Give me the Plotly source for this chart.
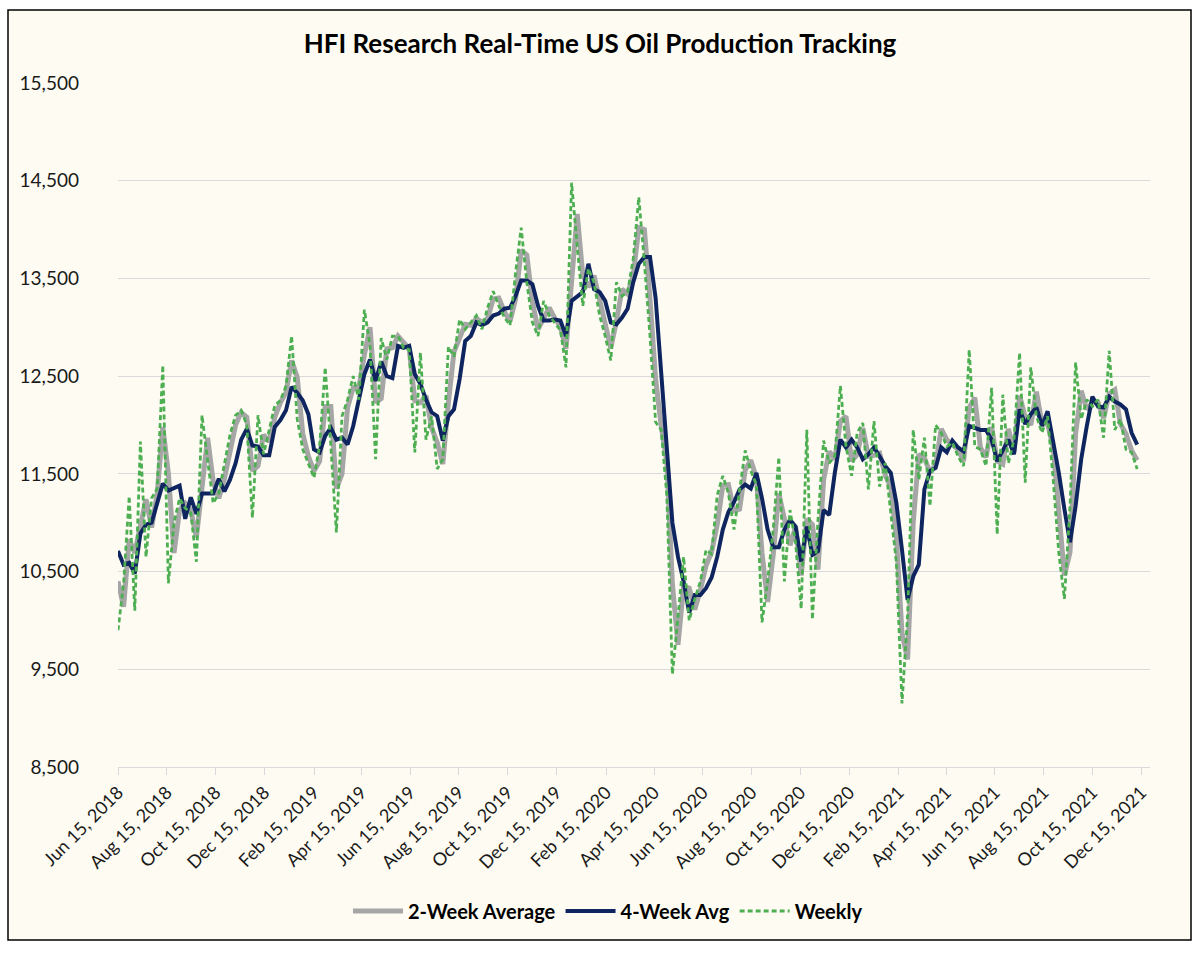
import pandas as pd
import plotly.graph_objects as go

START_DATE = "2018-06-15"

WEEKLY = [
    9900, 10380, 11270, 10100, 11830, 10650, 11250, 11350, 12610, 10380,
    11000, 11250, 11150, 11100, 10600, 12100, 11640, 11200, 11300, 11600,
    11900, 12100, 12150, 12000, 11050, 12100, 11700, 11950, 12200, 12250,
    12400, 12910, 12060, 11750, 11600, 11460, 11790, 12590, 11790, 10900,
    12090, 12260, 12500, 12260, 13180, 12810, 11650, 12890, 12670, 12910,
    12910, 12790, 12770, 11720, 12740, 11850, 12090, 11550, 11650, 12800,
    12700, 13080, 12980, 13050, 13120, 12980, 13200, 13370, 13220, 13100,
    13020, 13560, 14020, 13460, 13050, 12910, 13270, 13120, 13050, 12970,
    12590, 14480, 13830, 13220, 13600, 13460, 13120, 12910, 12660, 13460,
    13320, 13360, 13700, 14330, 13660, 12910, 12030, 11950, 11280, 9450,
    10040, 10650, 10000, 10220, 10400, 10720, 10680, 11280, 11480, 11300,
    10930, 11340, 11740, 11530, 11390, 9980, 10400, 10930, 11670, 10400,
    11130, 10790, 10120, 11950, 10010, 11030, 11840, 11610, 11680, 12400,
    11780, 11480, 11920, 12020, 11340, 12040, 11370, 11610, 11100, 10590,
    9150, 10050, 11950, 11440, 11870, 11170, 12000, 11920, 11780, 11820,
    11680, 11580, 12770, 11780, 11750, 11580, 12380, 10880, 12310, 11610,
    11850, 12740, 11410, 12590, 12090, 11920, 12090, 11440, 10690, 10220,
    11170, 12640, 12060, 12260, 12190, 12260, 11870, 12760, 11950, 12060,
    11750, 11720, 11550,
]

AVG_2W = [
    10400, 10140, 10830, 10690, 10970, 11240, 10950, 11300, 11980, 11500,
    10690, 11130, 11200, 11130, 10850, 11350, 11870, 11420, 11250, 11450,
    11750, 12000, 12130, 12080, 11530, 11580, 11900, 11830, 12080, 12230,
    12330, 12660, 12490, 11910, 11680, 11530, 11630, 12190, 12190, 11350,
    11500, 12180, 12380, 12380, 12720, 13000, 12230, 12270, 12780, 12790,
    12910, 12850, 12780, 12250, 12230, 12300, 11970, 11820, 11600, 12230,
    12750, 12890, 13030, 13020, 13090, 13050, 13090, 13290, 13300, 13160,
    13060, 13290, 13790, 13740, 13260, 12980, 13090, 13200, 13090, 13010,
    12780, 13540, 14160, 13530, 13410, 13530, 13290, 13020, 12790, 13060,
    13390, 13340, 13530, 14020, 14000, 13290, 12470, 11990, 11620, 10370,
    9750, 10350, 10330, 10110, 10310, 10560, 10700, 10980, 11380, 11390,
    11120, 11140, 11540, 11640, 11460, 10690, 10190, 10670, 11300, 11040,
    10770, 10960, 10460, 11040, 10980, 10520, 11440, 11730, 11650, 12040,
    12090, 11630, 11700, 11970, 11680, 11690, 11710, 11490, 11360, 10850,
    9870, 9600, 11000, 11700, 11660, 11520, 11590, 11960, 11850, 11800,
    11750, 11630, 12180, 12280, 11770, 11670, 11980, 11630, 11600, 11960,
    11730, 12300, 12080, 12000, 12340, 12010, 12010, 11770, 11070, 10460,
    10700, 11910, 12350, 12160, 12230, 12230, 12070, 12320, 12360, 12010,
    11910, 11740, 11640,
]

AVG_4W = [
    10710, 10570, 10590, 10480, 10890, 10980, 11000, 11200, 11400, 11330,
    11350, 11380, 11040, 11260, 11090, 11300, 11300, 11300, 11450, 11320,
    11440, 11610, 11850, 11960, 11790, 11780, 11690, 11690, 11980, 12050,
    12150, 12390, 12330, 12250, 12110, 11750, 11720, 11890, 11970, 11850,
    11870, 11800, 11990, 12260, 12520, 12670, 12450, 12650, 12500, 12480,
    12810, 12790, 12810, 12520, 12420, 12260, 12130, 12090, 11840, 12090,
    12160, 12470, 12860, 12910, 13050, 13020, 13050, 13120, 13140, 13190,
    13200, 13320, 13480, 13480, 13440, 13220, 13070, 13070, 13080, 13070,
    12910, 13270, 13310, 13360, 13650, 13390, 13360, 13270, 13050, 13030,
    13100, 13190, 13460, 13650, 13720, 13720, 13300, 12560, 11700, 11000,
    10650, 10400, 10080, 10260, 10260, 10330, 10440, 10650, 10930, 11110,
    11210, 11340, 11390, 11350, 11510, 11250, 10930, 10750, 10750, 10930,
    11030, 10960, 10600, 10960, 10670, 10710, 11130, 11080, 11510, 11850,
    11770, 11850, 11770, 11650, 11700, 11770, 11680, 11580, 11510, 11200,
    10720, 10210, 10450, 10570, 11340, 11530, 11560, 11770, 11720, 11840,
    11770, 11730, 11990, 11970, 11950, 11950, 11850, 11630, 11750, 11850,
    11700, 12160, 12010, 12110, 12180, 11990, 12140, 11850, 11510, 11140,
    10800, 11170, 11650, 11990, 12290, 12190, 12180, 12290, 12240, 12210,
    12160, 11920, 11800,
]

SERIES_NAMES = ["2-Week Average", "4-Week Avg", "Weekly"]
TITLE = "HFI Research Real-Time US Oil Production Tracking"

dates = pd.date_range(START_DATE, periods=len(WEEKLY), freq="7D")

CREAM = "#FEFCF2"
FONT = "Lato, 'Open Sans', sans-serif"

fig = go.Figure()
fig.add_trace(go.Scatter(x=dates, y=AVG_2W, name=SERIES_NAMES[0], mode="lines",
                         line=dict(color="#A6A6A6", width=5)))
fig.add_trace(go.Scatter(x=dates, y=AVG_4W, name=SERIES_NAMES[1], mode="lines",
                         line=dict(color="#0E2560", width=4)))
fig.add_trace(go.Scatter(x=dates, y=WEEKLY, name=SERIES_NAMES[2], mode="lines",
                         line=dict(color="#4DAF51", width=2.8, dash="5px,3px")))

L, R, T, B = 118, 50, 83, 187
W, H = 1200, 954
pw, ph = W - L - R, H - T - B

def px_x(px):
    return (px - L) / pw

def px_y(py):
    return (H - B - py) / ph

fig.add_shape(type="rect", xref="paper", yref="paper",
              x0=px_x(8), x1=px_x(1191), y0=px_y(940), y1=px_y(10),
              line=dict(color="#000000", width=1.5), fillcolor=CREAM, layer="below")

fig.update_layout(
    width=W, height=H,
    margin=dict(l=L, r=R, t=T, b=B, autoexpand=False),
    paper_bgcolor="#FFFFFF",
    plot_bgcolor=CREAM,
    font=dict(family=FONT, color="#1A1A1A"),
    title=dict(text=TITLE, x=0.5, xref="container", xanchor="center",
               y=1 - 44 / H, yref="container", yanchor="middle",
               font=dict(family=FONT, size=26, weight="bold", color="#000000")),
    showlegend=True,
    legend=dict(orientation="h", x=px_x(608), xanchor="center",
                y=px_y(911), yanchor="middle", itemwidth=50,
                font=dict(family=FONT, size=20, weight="bold", color="#000000"),
                bgcolor="rgba(0,0,0,0)", traceorder="normal"),
    xaxis=dict(
        type="date",
        range=["2018-06-15", "2021-12-26"],
        tick0="2018-06-15", dtick="M2", tickformat="%b %d, %Y",
        tickangle=-45, tickfont=dict(size=18, color="#1A1A1A"),
        showgrid=False, showline=True, linecolor="#D9D9D9", linewidth=1,
        ticks="outside", ticklen=7, tickcolor="#D9D9D9", zeroline=False,
    ),
    yaxis=dict(
        range=[8500, 15500], tick0=8500, dtick=1000, tickformat=",d",
        tickfont=dict(size=19, color="#1A1A1A"),
        showgrid=True, gridcolor="#D9D9D9", gridwidth=1,
        showline=False, zeroline=False, ticks="", ticklabelstandoff=38,
    ),
)

fig.write_html("out.html", config={"displayModeBar": False},
               post_script="document.body.style.margin='0';")
